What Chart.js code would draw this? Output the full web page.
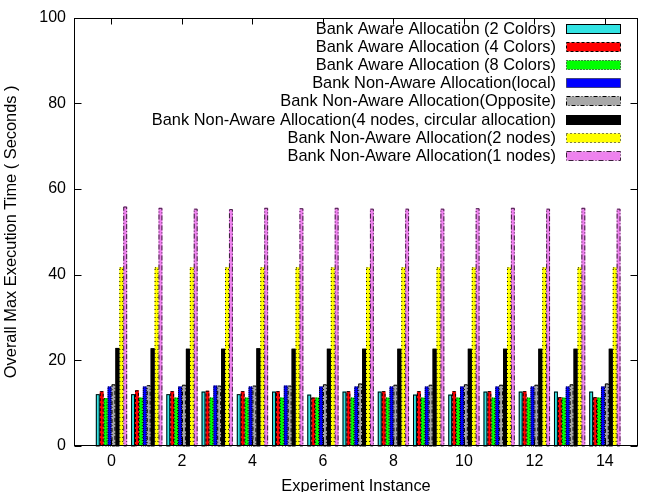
<!DOCTYPE html>
<html><head><meta charset="utf-8">
<script src="https://cdn.jsdelivr.net/npm/chart.js@4/dist/chart.umd.min.js"></script>
<style>html,body{margin:0;padding:0;background:#fff}#wrap{width:646px;height:492px}</style>
</head><body><div id="wrap"><canvas id="c" width="646" height="492"></canvas></div>
<script>
// ---- data ----
const instances = [0,1,2,3,4,5,6,7,8,9,10,11,12,13,14];
const xTickValues = [0,2,4,6,8,10,12,14];
const yTickValues = [0,20,40,60,80,100];
const seriesLabels = [
  'Bank Aware Allocation (2 Colors)',
  'Bank Aware Allocation (4 Colors)',
  'Bank Aware Allocation (8 Colors)',
  'Bank Non-Aware Allocation(local)',
  'Bank Non-Aware Allocation(Opposite)',
  'Bank Non-Aware Allocation(4 nodes, circular allocation)',
  'Bank Non-Aware Allocation(2 nodes)',
  'Bank Non-Aware Allocation(1 nodes)'
];
const aware2Colors = [12.1,12.1,12.1,12.7,12.1,12.7,12.0,12.7,12.7,12.0,12.0,12.7,12.7,12.7,12.7];
const aware4Colors = [12.8,13.0,12.8,12.9,12.8,12.8,11.3,12.8,12.8,12.8,12.8,12.8,12.8,11.4,11.4];
const aware8Colors = [11.2,11.3,11.3,11.3,11.3,11.3,11.3,11.3,11.3,11.3,11.3,11.3,11.3,11.3,11.3];
const nonAwareLocal = [13.9,13.9,13.9,14.1,13.9,14.1,13.9,13.9,13.9,13.9,13.9,13.9,13.9,13.9,13.9];
const nonAwareOpposite = [14.4,14.2,14.3,14.1,14.1,14.1,14.4,14.6,14.3,14.3,14.4,14.3,14.3,14.4,14.6];
const nonAware4Nodes = [22.9,22.8,22.7,22.7,22.8,22.7,22.7,22.7,22.7,22.7,22.7,22.7,22.7,22.7,22.7];
const nonAware2Nodes = [41.7,41.7,41.7,41.7,41.7,41.7,41.7,41.7,41.7,41.7,41.7,41.7,41.7,41.7,41.7];
const nonAware1Node = [55.9,55.6,55.4,55.3,55.6,55.5,55.6,55.4,55.4,55.4,55.5,55.6,55.4,55.6,55.4];
const seriesValues = [aware2Colors, aware4Colors, aware8Colors, nonAwareLocal, nonAwareOpposite, nonAware4Nodes, nonAware2Nodes, nonAware1Node];

// ---- styles ----
const FONT = 'Liberation Sans, Arial, Helvetica, sans-serif';
const fillColors = ['#33e3e3','#ff0000','#00ff00','#0000ff','#a8a8a8','#000000','#ffff00','#ee82ee'];
const edgeColors = ['#000','#000','#000','#000','#000','#000','#000','#3a1f3a'];
const edgeDashes = [[],[3,2],[1,2],[1,1],[4,2,1,2],[],[1,3],[5,2,1,2]];

const datasets = seriesValues.map((vals, i) => ({
  label: seriesLabels[i],
  data: instances.map((x, j) => ({x: x, y: vals[j]})),
  backgroundColor: fillColors[i],
  borderWidth: 0,
  categoryPercentage: 8/9,
  barPercentage: 1.0
}));

const decor = {
  id: 'decor',
  afterDatasetsDraw(chart) {
    const ctx = chart.ctx;
    const {left, right, top, bottom} = chart.chartArea;
    chart.data.datasets.forEach((ds, i) => {
      const meta = chart.getDatasetMeta(i);
      ctx.save();
      ctx.strokeStyle = edgeColors[i];
      ctx.lineWidth = 1;
      ctx.setLineDash(edgeDashes[i]);
      meta.data.forEach(el => {
        const p = el.getProps(['x','y','base','width'], true);
        const x0 = p.x - p.width/2 + 0.5, x1 = p.x + p.width/2 - 0.5;
        ctx.strokeRect(x0, p.y + 0.5, x1 - x0, p.base - p.y - 0.5);
      });
      ctx.restore();
    });
    ctx.save();
    ctx.strokeStyle = '#000';
    ctx.lineWidth = 1;
    const L = Math.round(left) + 0.5, R = Math.round(right) - 0.5, T = Math.round(top) + 0.5, B = Math.round(bottom) - 0.5;
    ctx.strokeRect(L, T, R - L, B - T);
    const ys = chart.scales.y, xs = chart.scales.x;
    ctx.beginPath();
    yTickValues.forEach(v => {
      const y = Math.round(ys.getPixelForValue(v)) + 0.5;
      ctx.moveTo(L, y); ctx.lineTo(L + 7, y);
      ctx.moveTo(R, y); ctx.lineTo(R - 7, y);
    });
    xTickValues.forEach(v => {
      const x = Math.round(xs.getPixelForValue(v)) + 0.5;
      ctx.moveTo(x, B); ctx.lineTo(x, B - 6);
      ctx.moveTo(x, T); ctx.lineTo(x, T + 6);
    });
    ctx.stroke();
    ctx.font = '16.4px ' + FONT;
    ctx.textAlign = 'right';
    ctx.textBaseline = 'middle';
    chart.data.datasets.forEach((ds, i) => {
      const cy = 28.5 + i * 18.1;
      ctx.fillStyle = '#000';
      ctx.fillText(ds.label, 556, cy + 1);
      const sx = 566.5, sw = 54, sh = 9, sy = Math.round(cy - sh/2) + 0.5;
      ctx.fillStyle = fillColors[i];
      ctx.fillRect(sx, sy, sw, sh);
      ctx.save();
      ctx.strokeStyle = edgeColors[i];
      ctx.setLineDash(edgeDashes[i]);
      ctx.strokeRect(sx, sy, sw, sh);
      ctx.restore();
    });
    ctx.restore();
  }
};

new Chart(document.getElementById('c'), {
  type: 'bar',
  data: { datasets: datasets },
  options: {
    responsive: false,
    devicePixelRatio: 1,
    animation: false,
    layout: { padding: { top: 11, right: 8, left: 0, bottom: 0 } },
    plugins: { legend: { display: false }, tooltip: { enabled: false } },
    scales: {
      x: {
        type: 'linear', min: -1.064, max: 14.94, offset: false,
        afterBuildTicks: s => { s.ticks = xTickValues.map(v => ({value: v})); },
        grid: { display: false, drawTicks: false }, border: { display: false },
        ticks: { padding: 6, maxRotation: 0, autoSkip: false, color: '#000', font: { family: FONT, size: 16 } },
        title: { display: true, text: 'Experiment Instance', color: '#000', font: { family: FONT, size: 16.4, lineHeight: 1 }, padding: { top: 0, bottom: -3 } },
        afterFit: s => { s.height = 46; }
      },
      y: {
        min: 0, max: 100,
        afterBuildTicks: s => { s.ticks = yTickValues.map(v => ({value: v})); },
        grid: { display: false, drawTicks: false }, border: { display: false },
        ticks: { padding: 8, color: '#000', font: { family: FONT, size: 16 } },
        title: { display: true, text: 'Overall Max Execution Time ( Seconds )', color: '#000', font: { family: FONT, size: 16.4 }, padding: { top: 2, bottom: 0 } },
        afterFit: s => { s.width = 74; }
      }
    }
  },
  plugins: [decor]
});
</script>
</body></html>
